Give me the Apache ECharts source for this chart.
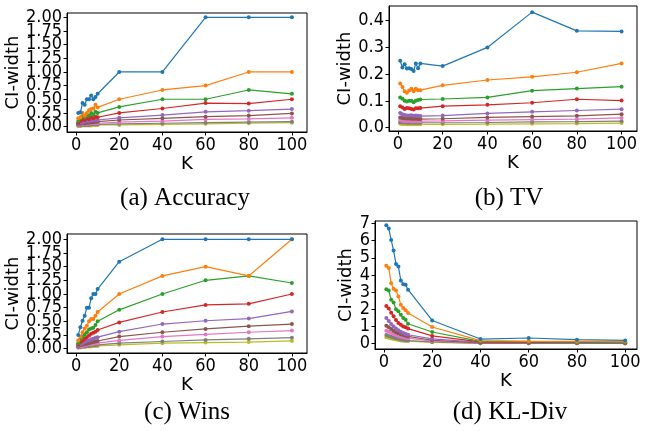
<!DOCTYPE html>
<html><head><meta charset="utf-8">
<script src="https://cdn.jsdelivr.net/npm/echarts@6/dist/echarts.min.js"></script>
<style>html,body{margin:0;padding:0;background:#fff}#c{width:652px;height:431px}</style>
</head><body><div id="c"></div>
<script>
const K = [1,2,3,4,5,6,7,8,9,10,20,40,60,80,100];
const COLORS = ['#1f77b4','#ff7f0e','#2ca02c','#d62728','#9467bd','#8c564b','#e377c2','#7f7f7f','#bcbd22'];

const accuracy = [
  [0.25,0.26,0.43,0.40,0.50,0.50,0.57,0.50,0.54,0.60,1.0,1.0,2.0,2.0,2.0],
  [0.15,0.17,0.25,0.20,0.25,0.30,0.32,0.33,0.40,0.35,0.50,0.67,0.75,1.0,1.0],
  [0.10,0.15,0.20,0.17,0.22,0.20,0.25,0.22,0.27,0.25,0.36,0.50,0.50,0.67,0.60],
  [0.07,0.10,0.13,0.12,0.15,0.14,0.17,0.15,0.18,0.17,0.25,0.33,0.43,0.42,0.50],
  [0.05,0.07,0.08,0.09,0.10,0.10,0.11,0.11,0.12,0.12,0.16,0.21,0.27,0.29,0.32],
  [0.04,0.05,0.06,0.06,0.07,0.07,0.08,0.08,0.09,0.09,0.12,0.15,0.18,0.20,0.24],
  [0.03,0.04,0.04,0.05,0.05,0.05,0.06,0.06,0.06,0.06,0.08,0.10,0.13,0.14,0.16],
  [0.02,0.02,0.03,0.03,0.03,0.03,0.04,0.04,0.04,0.04,0.05,0.06,0.07,0.08,0.09],
  [0.01,0.01,0.02,0.02,0.02,0.02,0.02,0.03,0.03,0.03,0.03,0.04,0.05,0.06,0.07]
];
const tv = [
  [0.25,0.225,0.237,0.221,0.222,0.219,0.212,0.24,0.222,0.24,0.23,0.30,0.432,0.362,0.36],
  [0.165,0.152,0.136,0.13,0.139,0.145,0.136,0.145,0.14,0.14,0.158,0.178,0.19,0.207,0.24],
  [0.113,0.108,0.100,0.098,0.100,0.100,0.095,0.100,0.103,0.105,0.107,0.113,0.138,0.146,0.153],
  [0.080,0.075,0.070,0.073,0.072,0.070,0.068,0.072,0.072,0.073,0.080,0.085,0.093,0.106,0.101],
  [0.055,0.050,0.047,0.045,0.045,0.046,0.044,0.045,0.044,0.043,0.045,0.053,0.059,0.064,0.069],
  [0.038,0.036,0.035,0.034,0.034,0.033,0.033,0.033,0.032,0.032,0.033,0.038,0.041,0.044,0.050],
  [0.028,0.026,0.025,0.025,0.025,0.024,0.024,0.024,0.024,0.024,0.025,0.028,0.030,0.032,0.036],
  [0.020,0.019,0.019,0.018,0.018,0.018,0.018,0.018,0.018,0.018,0.018,0.019,0.021,0.022,0.024],
  [0.014,0.013,0.013,0.012,0.012,0.012,0.012,0.012,0.012,0.012,0.012,0.013,0.014,0.015,0.017]
];
const wins = [
  [0.25,0.39,0.51,0.60,0.75,0.75,0.92,1.0,1.0,1.09,1.59,2.0,2.0,2.0,2.0],
  [0.15,0.22,0.30,0.37,0.42,0.50,0.54,0.54,0.60,0.67,1.0,1.33,1.5,1.33,2.0],
  [0.10,0.17,0.22,0.26,0.30,0.35,0.37,0.38,0.43,0.50,0.71,1.0,1.25,1.33,1.2],
  [0.08,0.12,0.15,0.18,0.21,0.24,0.27,0.29,0.31,0.34,0.48,0.67,0.80,0.82,1.0],
  [0.05,0.08,0.10,0.12,0.14,0.15,0.17,0.18,0.20,0.21,0.31,0.45,0.51,0.55,0.68],
  [0.04,0.06,0.07,0.08,0.09,0.10,0.11,0.12,0.13,0.14,0.22,0.30,0.36,0.41,0.45],
  [0.03,0.04,0.05,0.06,0.07,0.08,0.08,0.09,0.10,0.10,0.15,0.22,0.26,0.30,0.33],
  [0.02,0.03,0.04,0.04,0.05,0.05,0.06,0.06,0.06,0.07,0.10,0.13,0.16,0.18,0.20],
  [0.02,0.02,0.03,0.03,0.04,0.04,0.04,0.05,0.05,0.05,0.07,0.10,0.11,0.12,0.14]
];
const klDiv = [
  [6.89,6.7,6.04,5.42,4.64,4.49,3.68,3.46,3.43,3.14,1.35,0.27,0.33,0.23,0.19],
  [4.53,4.4,3.52,3.19,3.1,2.75,2.26,2.07,1.94,1.78,0.97,0.18,0.15,0.13,0.12],
  [3.17,3.1,2.55,2.4,2.0,1.88,1.68,1.49,1.39,1.16,0.68,0.13,0.10,0.09,0.08],
  [2.2,2.05,1.8,1.6,1.38,1.2,1.1,1.0,0.95,0.88,0.45,0.10,0.08,0.07,0.06],
  [1.5,1.32,1.15,1.0,0.88,0.78,0.7,0.62,0.57,0.52,0.28,0.07,0.06,0.05,0.05],
  [1.05,0.95,0.85,0.75,0.66,0.6,0.55,0.5,0.46,0.42,0.2,0.05,0.04,0.04,0.04],
  [0.75,0.7,0.62,0.55,0.5,0.45,0.42,0.38,0.35,0.32,0.15,0.04,0.03,0.03,0.03],
  [0.5,0.45,0.4,0.36,0.32,0.28,0.25,0.22,0.2,0.18,0.1,0.03,0.02,0.02,0.02],
  [0.38,0.35,0.3,0.27,0.24,0.21,0.19,0.17,0.16,0.15,0.08,0.02,0.02,0.02,0.01]
];
const xTicks = [0,20,40,60,80,100];
const yTicksAcc = [0,0.25,0.5,0.75,1.0,1.25,1.5,1.75,2.0];
const yTicksTV = [0,0.1,0.2,0.3,0.4];
const yTicksWins = [0,0.25,0.5,0.75,1.0,1.25,1.5,1.75,2.0];
const yTicksKL = [0,1,2,3,4,5,6,7];
const captions = ['(a) Accuracy','(b) TV','(c) Wins','(d) KL-Div'];

const FONT = "'DejaVu Sans Condensed', 'DejaVu Sans', sans-serif";
const FS = 18;
const panels = [
  {data: accuracy, grid:{left:67,top:13,width:240,height:119}, x:[-4.2,107], y:[-0.1,2.08], yt:yTicksAcc, fmt:v=>v.toFixed(2), yGap:42, xGap:13, cap:[185,198]},
  {data: tv, grid:{left:389,top:6,width:248,height:125}, x:[-4.0,106.9], y:[-0.0128,0.455], yt:yTicksTV, fmt:v=>v.toFixed(1), yGap:32, xGap:13, cap:[509,198]},
  {data: wins, grid:{left:67,top:234,width:240,height:119}, x:[-4.2,107], y:[-0.08,2.097], yt:yTicksWins, fmt:v=>v.toFixed(2), yGap:42, xGap:14, cap:[187,412]},
  {data: klDiv, grid:{left:375,top:221,width:262,height:128}, x:[-3.7,104.9], y:[-0.31,7.14], yt:yTicksKL, fmt:v=>String(Math.round(v)), yGap:20, xGap:17, cap:[510,412]}
];

const option = {animation:false, grid:[], xAxis:[], yAxis:[], series:[], graphic:[]};
const tickStyle = {show:true, inside:false, length:3.5, lineStyle:{color:'#000', width:1}};
const labelStyle = {fontFamily:FONT, fontSize:FS, color:'#000', hideOverlap:false, showMinLabel:true, showMaxLabel:true};
panels.forEach((p, gi) => {
  option.grid.push(Object.assign({show:true, borderColor:'#000', borderWidth:1, backgroundColor:'transparent'}, p.grid));
  option.xAxis.push({
    type:'value', gridIndex:gi, min:p.x[0], max:p.x[1], splitLine:{show:false},
    name:'K', nameLocation:'middle', nameGap:p.xGap,
    nameTextStyle:{fontFamily:"'DejaVu Sans', sans-serif", fontSize:18, color:'#000'},
    axisLine:{show:true, onZero:false, lineStyle:{color:'#000', width:1}},
    axisTick:Object.assign({}, tickStyle, {customValues:xTicks}),
    axisLabel:Object.assign({}, labelStyle, {customValues:xTicks, margin:4, formatter:v=>String(v)})
  });
  // split tick labels across two coincident y axes so alternate labels never collide
  const evenT = p.yt.filter((_,i)=>i%2===0);
  const oddT = p.yt.filter((_,i)=>i%2===1);
  option.yAxis.push({
    type:'value', gridIndex:gi, position:'left', offset:0, min:p.y[0], max:p.y[1], splitLine:{show:false},
    name:'CI-width', nameLocation:'middle', nameGap:p.yGap, nameRotate:90,
    nameTextStyle:{fontFamily:"'DejaVu Sans', sans-serif", fontSize:18, color:'#000'},
    axisLine:{show:true, onZero:false, lineStyle:{color:'#000', width:1}},
    axisTick:Object.assign({}, tickStyle, {customValues:p.yt}),
    axisLabel:Object.assign({}, labelStyle, {customValues:evenT, margin:5, formatter:p.fmt})
  });
  option.yAxis.push({
    type:'value', gridIndex:gi, position:'left', offset:0, min:p.y[0], max:p.y[1], splitLine:{show:false},
    axisLine:{show:false, onZero:false},
    axisTick:{show:false},
    axisLabel:Object.assign({}, labelStyle, {customValues:oddT, margin:5, formatter:p.fmt})
  });
  p.data.forEach((row, si) => {
    option.series.push({
      type:'line', xAxisIndex:gi, yAxisIndex:2*gi, z: 20 - si,
      data:K.map((k,i)=>[k,row[i]]),
      symbol:'circle', symbolSize:4, showSymbol:true,
      lineStyle:{color:COLORS[si], width:1.2},
      itemStyle:{color:COLORS[si]}
    });
  });
});
option.graphic = panels.map((p,gi)=>({type:'text', x:p.cap[0], y:p.cap[1], style:{text:captions[gi], font:"25px 'Liberation Serif', serif", fill:'#000', align:'center', verticalAlign:'middle'}}));
const chart = echarts.init(document.getElementById('c'), null, {renderer:'canvas'});
chart.setOption(option);
</script></body></html>
